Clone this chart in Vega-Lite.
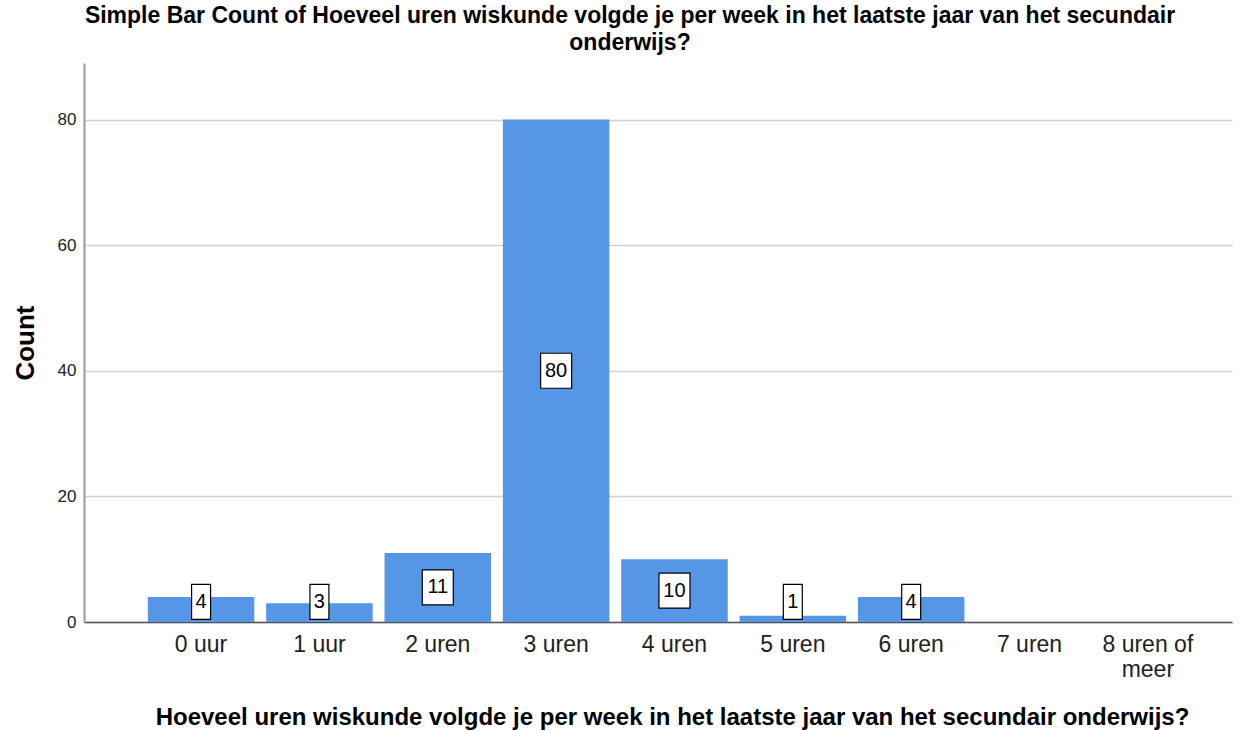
{
  "$schema": "https://vega.github.io/schema/vega-lite/v6.json",
  "width": 1148,
  "height": 559,
  "autosize": {"type": "none"},
  "padding": {"left": 84, "top": 63, "right": 14, "bottom": 109},
  "background": "white",
  "title": {
    "text": ["Simple Bar Count of Hoeveel uren wiskunde volgde je per week in het laatste jaar van het secundair", "onderwijs?"],
    "font": "Liberation Sans",
    "fontSize": 23,
    "fontWeight": "bold",
    "color": "black",
    "anchor": "middle",
    "dx": -28,
    "offset": 8,
    "lineHeight": 27
  },
  "config": {
    "view": {"stroke": null},
    "font": "Liberation Sans"
  },
  "data": {
    "values": [
      {"uren": "0 uur", "count": 4},
      {"uren": "1 uur", "count": 3},
      {"uren": "2 uren", "count": 11},
      {"uren": "3 uren", "count": 80},
      {"uren": "4 uren", "count": 10},
      {"uren": "5 uren", "count": 1},
      {"uren": "6 uren", "count": 4}
    ]
  },
  "encoding": {
    "x": {
      "field": "uren",
      "type": "nominal",
      "sort": null,
      "scale": {
        "domain": ["0 uur", "1 uur", "2 uren", "3 uren", "4 uren", "5 uren", "6 uren", "7 uren", "8 uren of meer"],
        "paddingInner": 0.1,
        "paddingOuter": 0.4,
        "align": 0.674
      },
      "axis": {
        "title": "Hoeveel uren wiskunde volgde je per week in het laatste jaar van het secundair onderwijs?",
        "titleFont": "Liberation Sans",
        "titleFontSize": 24,
        "titleFontWeight": "bold",
        "titleColor": "black",
        "titlePadding": 24,
        "titleX": 588,
        "labelFont": "Liberation Sans",
        "labelFontSize": 23,
        "labelColor": "#222222",
        "labelPadding": 11,
        "labelAngle": 0,
        "labelExpr": "datum.label == '8 uren of meer' ? ['8 uren of', 'meer'] : datum.label",
        "labelLineHeight": 25,
        "ticks": false,
        "domainColor": "#555555",
        "domainWidth": 1.5,
        "grid": false
      }
    }
  },
  "layer": [
    {
      "mark": {"type": "bar", "color": "#5596e6"},
      "encoding": {
        "y": {
          "field": "count",
          "type": "quantitative",
          "scale": {"domain": [0, 89], "nice": false},
          "axis": {
            "title": "Count",
            "titleFont": "Liberation Sans",
            "titleFontSize": 26,
            "titleFontWeight": "bold",
            "titleColor": "black",
            "titlePadding": 19,
            "values": [0, 20, 40, 60, 80],
            "labelFont": "Liberation Sans",
            "labelFontSize": 17,
            "labelColor": "#222222",
            "labelPadding": 8,
            "ticks": false,
            "domainColor": "#999999",
            "domainWidth": 2,
            "grid": true,
            "gridColor": "#d0d0d0",
            "gridWidth": 1.5
          }
        }
      }
    },
    {
      "transform": [{"calculate": "max(datum.count / 2, 3.2)", "as": "labelPos"}],
      "mark": {
        "type": "point",
        "filled": true,
        "fill": "white",
        "stroke": "black",
        "strokeWidth": 1.2,
        "opacity": 1,
        "size": 4900
      },
      "encoding": {
        "y": {"field": "labelPos", "type": "quantitative"},
        "shape": {
          "condition": {"test": "datum.count >= 10", "value": "M-0.443,-0.5H0.443V0.5H-0.443Z"},
          "value": "M-0.271,-0.5H0.271V0.5H-0.271Z"
        }
      }
    },
    {
      "transform": [{"calculate": "max(datum.count / 2, 3.2)", "as": "labelPos"}],
      "mark": {"type": "text", "fontSize": 20, "color": "black", "font": "Liberation Sans"},
      "encoding": {
        "y": {"field": "labelPos", "type": "quantitative"},
        "text": {"field": "count", "type": "quantitative"}
      }
    }
  ]
}
